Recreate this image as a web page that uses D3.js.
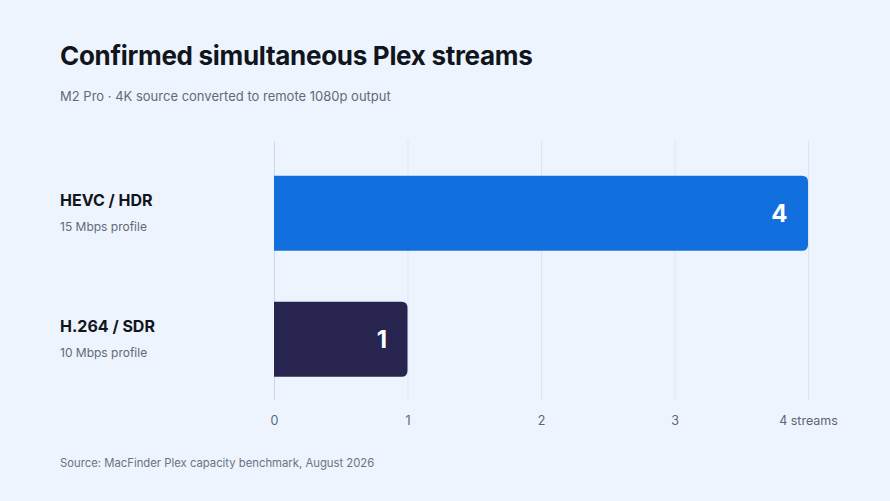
<!DOCTYPE html>
<html>
<head>
<meta charset="utf-8">
<script src="https://cdn.jsdelivr.net/npm/d3@7"></script>
<style>
  html, body { margin: 0; padding: 0; background: #edf4fe; }
  svg { display: block; font-family: Inter, "Noto Sans", sans-serif; }
</style>
</head>
<body>
<svg id="chart"></svg>
<script>
const categories = ['HEVC / HDR', 'H.264 / SDR'];
const profiles = ['15 Mbps profile', '10 Mbps profile'];
const streams = [4, 1];
const tickValues = [0, 1, 2, 3, 4];
const tickLabels = ['0', '1', '2', '3', '4 streams'];
const barColors = ['#1170de', '#27244f'];

const width = 890, height = 501;
const margin = { top: 141, right: 82, bottom: 101, left: 274 };

const svg = d3.select('#chart')
    .attr('width', width)
    .attr('height', height);

svg.append('rect')
    .attr('width', width).attr('height', height)
    .attr('fill', '#edf4fe');

// titles
svg.append('text')
    .attr('x', 60).attr('y', 65)
    .attr('font-size', 26).attr('font-weight', 700)
    .attr('fill', '#11151c')
    .attr('letter-spacing', -0.3)
    .text('Confirmed simultaneous Plex streams');

svg.append('text')
    .attr('x', 60).attr('y', 101)
    .attr('font-size', 13).attr('fill', '#636a76')
    .text('M2 Pro · 4K source converted to remote 1080p output');

const inner_width = width - margin.left - margin.right;
const inner_height = height - margin.top - margin.bottom;

const chart = svg.append('g')
    .attr('transform', `translate(${margin.left},${margin.top})`);

const xscale = d3.scaleLinear()
    .domain([0, 4])
    .range([0, inner_width]);

const yscale = d3.scaleBand()
    .domain(categories)
    .range([0, inner_height])
    .paddingInner(0.405)
    .paddingOuter(0.23)
    .align(0.6);

// grid
chart.selectAll('.grid')
    .data(tickValues)
    .enter().append('line')
    .attr('x1', d => xscale(d) + 0.5).attr('x2', d => xscale(d) + 0.5)
    .attr('y1', 0).attr('y2', inner_height)
    .attr('stroke', d => d === 0 ? '#c9d9ee' : '#dde6f2')
    .attr('stroke-width', 1);

// x axis labels
const xaxis = d3.axisBottom(xscale)
    .tickValues(tickValues)
    .tickFormat((d, i) => tickLabels[i])
    .tickSize(0)
    .tickPadding(16);

const xaxis_group = chart.append('g')
    .attr('transform', `translate(0, ${inner_height})`)
    .call(xaxis);
xaxis_group.select('.domain').remove();
xaxis_group.selectAll('text')
    .attr('font-family', 'Inter, "Noto Sans", sans-serif')
    .attr('font-size', 12.5)
    .attr('fill', '#5d6573');

// bars: square left, rounded right
const r = 6;
function barPath(w, h) {
    return `M0,0 H${w - r} Q${w},0 ${w},${r} V${h - r} Q${w},${h} ${w - r},${h} H0 Z`;
}

const bars = chart.selectAll('.bar')
    .data(categories)
    .enter().append('g')
    .attr('transform', d => `translate(0,${yscale(d)})`);

bars.append('path')
    .attr('d', (d, i) => barPath(xscale(streams[i]), yscale.bandwidth()))
    .attr('fill', (d, i) => barColors[i]);

bars.append('text')
    .attr('x', (d, i) => xscale(streams[i]) - 20.5)
    .attr('y', yscale.bandwidth() / 2)
    .attr('dy', '0.36em')
    .attr('text-anchor', 'end')
    .attr('font-size', 24).attr('font-weight', 700)
    .attr('fill', '#ffffff')
    .text((d, i) => streams[i]);

// category labels
const labels = svg.selectAll('.cat')
    .data(categories)
    .enter().append('g')
    .attr('transform', d => `translate(60,${margin.top + yscale(d) + yscale.bandwidth() / 2})`);

labels.append('text')
    .attr('y', -7)
    .attr('font-size', 16).attr('font-weight', 700)
    .attr('fill', '#11151c')
    .text(d => d);

labels.append('text')
    .attr('y', 18)
    .attr('font-size', 12).attr('fill', '#636a76')
    .text((d, i) => profiles[i]);

// source
svg.append('text')
    .attr('x', 60).attr('y', 467)
    .attr('font-size', 11.3).attr('fill', '#6b7380')
    .text('Source: MacFinder Plex capacity benchmark, August 2026');
</script>
</body>
</html>
